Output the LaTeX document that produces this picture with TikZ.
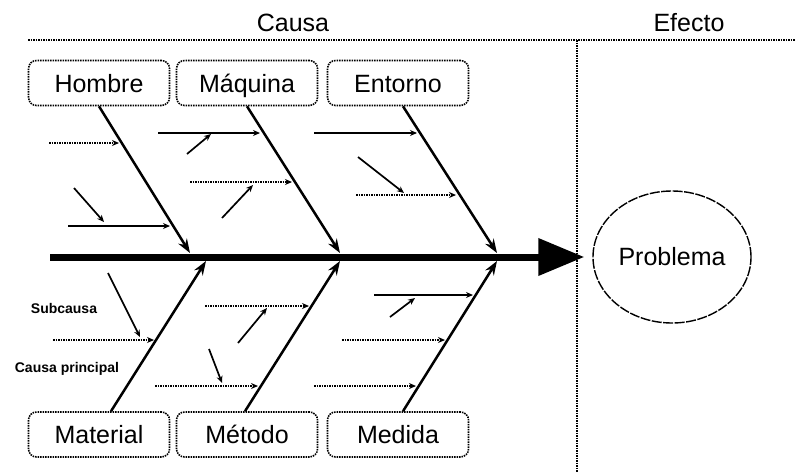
\documentclass[tikz,border=0pt]{standalone}
\usepackage{fontspec}
\setmainfont{Liberation Sans}
\usetikzlibrary{arrows.meta,shapes.geometric}
\begin{document}
\begin{tikzpicture}[x=1pt,y=-1pt,
  box/.style={draw, dash pattern=on 1.5pt off 1pt, line width=1.6pt, rounded corners=8pt,
    minimum width=141pt, minimum height=45pt, inner sep=0pt, text height=20pt, text depth=2pt,
    font=\fontsize{25}{28}\selectfont},
  bigtext/.style={inner sep=0pt, font=\fontsize{25}{28}\selectfont},
  smalltext/.style={inner sep=0pt, font=\bfseries\fontsize{14}{15}\selectfont},
  bone/.style={line width=2.5pt, -{Stealth[length=14pt,width=10pt]}},
  sub/.style={line width=1.7pt, -{Stealth[length=7pt,width=6pt]}},
  subd/.style={sub, dash pattern=on 1.5pt off 1pt},
  sepline/.style={dash pattern=on 1.5pt off 1pt, line width=1.8pt},
  ]
\useasboundingbox (0,0) rectangle (795,472);
\fill[white] (0,0) rectangle (795,472);

% headers and separators
\node[bigtext] (causa) at (293,23) {Causa};
\node[bigtext] (efecto) at (689,23) {Efecto};
\coordinate (topl) at (28,40);
\coordinate (topr) at (795,40);
\coordinate (vtop) at (577,40);
\coordinate (vbot) at (577,472);
\draw[sepline] (topl) -- (topr);
\draw[sepline, line width=2.8pt] (vtop) -- (vbot);

% category boxes
\node[box] (hombre)   at (99,83)    {Hombre};
\node[box] (maquina)  at (247,83)   {Máquina};
\node[box] (entorno)  at (398,83)   {Entorno};
\node[box] (material) at (99,434.5) {Material};
\node[box] (metodo)   at (247,434.5){Método};
\node[box] (medida)   at (398,434.5){Medida};

% effect
\node[ellipse, draw, minimum width=158pt, minimum height=132pt, inner sep=0pt,
  dash pattern=on 10pt off 1.5pt, line width=1.4pt, font=\fontsize{25}{28}\selectfont] (problema) at (672,257) {Problema};

% spine
\coordinate (tail) at (50,257);
\draw[line width=7pt, -{Triangle[length=46pt,width=36pt]}] (tail) -- ([xshift=-8pt]problema.west);

% main bones
\coordinate (hs) at (190,253);
\coordinate (ms) at (340,253);
\coordinate (es) at (497,253);
\coordinate (mas) at (206,261);
\coordinate (mes) at (340,261);
\coordinate (mds) at (497,261);
\draw[bone] (hombre.south) -- (hs);
\draw[bone] (maquina.south) -- (ms);
\draw[bone] ([xshift=5pt]entorno.south) -- (es);
\draw[bone] ([xshift=12pt]material.north) -- (mas);
\draw[bone] ([xshift=-2pt]metodo.north) -- (mes);
\draw[bone] ([xshift=5pt]medida.north) -- (mds);

% Hombre subcauses
\draw[subd] (49,143) coordinate (h1a) -- (119,143) coordinate (h1b);
\draw[sub] (68,226) coordinate (h2a) -- (170,226) coordinate (h2b);
\draw[sub] (74,188) coordinate (h3a) -- (104,222) coordinate (h3b);

% Maquina subcauses
\draw[sub] (158,133) coordinate (q1a) -- (260,133) coordinate (q1b);
\draw[sub] (187,154) coordinate (q2a) -- (211,134) coordinate (q2b);
\draw[subd] (190,182) coordinate (q3a) -- (292,182) coordinate (q3b);
\draw[sub] (222,218) coordinate (q4a) -- (253,185) coordinate (q4b);

% Entorno subcauses
\draw[sub] (314,133) coordinate (e1a) -- (417,133) coordinate (e1b);
\draw[subd] (356,195) coordinate (e2a) -- (456,195) coordinate (e2b);
\draw[sub] (358,157) coordinate (e3a) -- (404,193) coordinate (e3b);

% Material subcauses
\draw[subd] (53,340) coordinate (a1a) -- (154,340) coordinate (a1b);
\draw[sub] (108,273) coordinate (a2a) -- (140,337) coordinate (a2b);

% Metodo subcauses
\draw[subd] (205,306) coordinate (t1a) -- (309,306) coordinate (t1b);
\draw[sub] (238,343) coordinate (t2a) -- (267,308) coordinate (t2b);
\draw[subd] (155,386) coordinate (t3a) -- (258,386) coordinate (t3b);
\draw[sub] (209,349) coordinate (t4a) -- (222,383) coordinate (t4b);

% Medida subcauses
\draw[sub] (374,295) coordinate (d1a) -- (473,295) coordinate (d1b);
\draw[sub] (390,317) coordinate (d2a) -- (415,298) coordinate (d2b);
\draw[subd] (342,340) coordinate (d3a) -- (445,340) coordinate (d3b);
\draw[subd] (314,386) coordinate (d4a) -- (416,386) coordinate (d4b);

% labels
\node[smalltext] (subcausa) at (64,308) {Subcausa};
\node[smalltext] (causaprincipal) at (67,369) {Causa principal};
\end{tikzpicture}
\end{document}
